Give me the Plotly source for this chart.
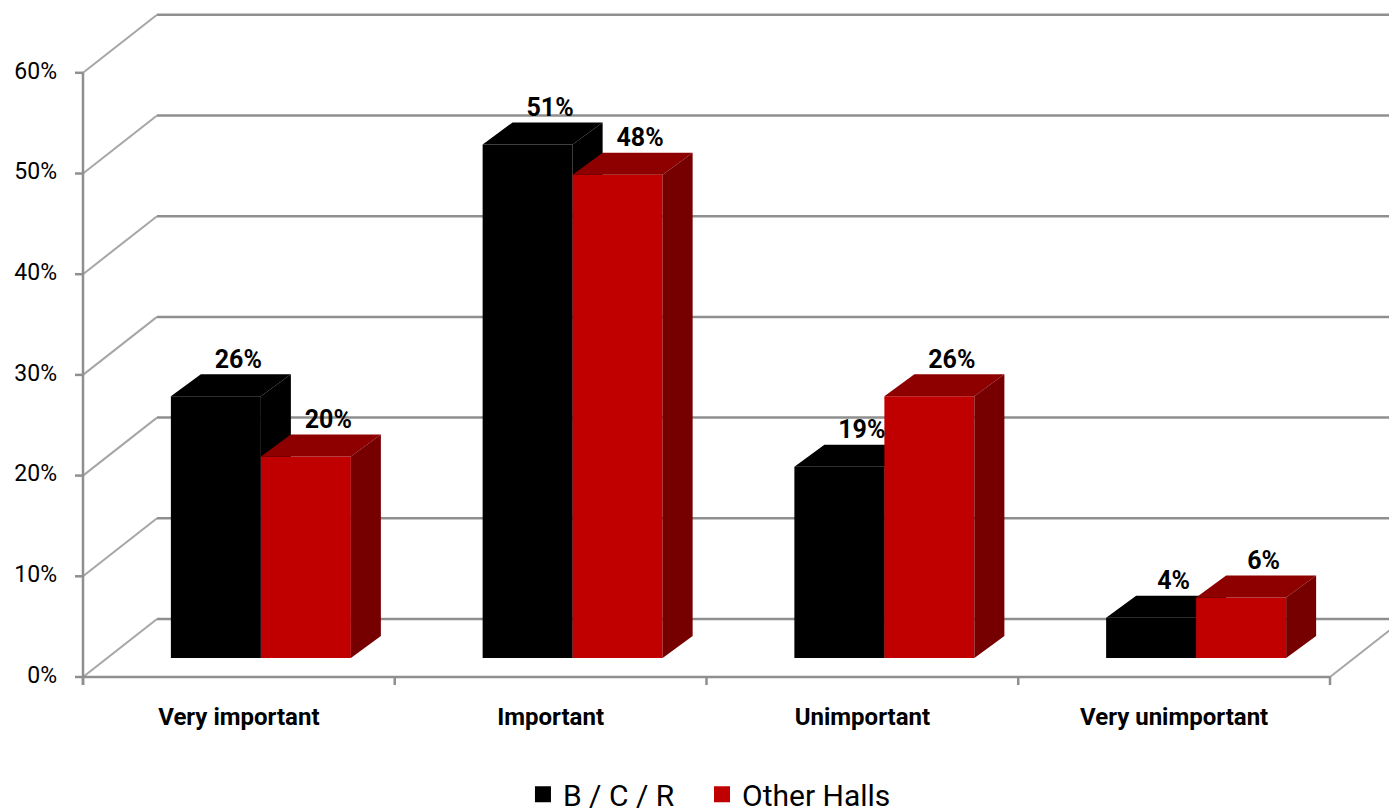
import plotly.graph_objects as go

# ---------------- data ----------------
categories = ["Very important", "Important", "Unimportant", "Very unimportant"]
series_names = ["B / C / R", "Other Halls"]
bcr_values = [26, 51, 19, 4]
other_values = [20, 48, 26, 6]
y_ticks = [0, 10, 20, 30, 40, 50, 60]

# ---------------- styling / projection ----------------
W, H = 1389, 812
X0_PX, Y0_PX = 83, 677          # front-left corner of the floor (0%)
PX_PER_CAT = 311.75
PX_PER_PCT = 10.07

FONT = "Roboto, Liberation Sans, Arial, sans-serif"
GRID = "#8f8f8f"
DIAG = "#a6a6a6"


def dxp(px):
    return px / PX_PER_CAT


def dyp(px):
    return px / PX_PER_PCT


WALL = (dxp(74), dyp(58))        # depth of the floor / back wall
BAR_OFF = (dxp(22), dyp(19))     # front face of the bars sits inside the floor
BAR_DEPTH = (dxp(30), dyp(22))   # depth of each bar
BW = dxp(90)                     # bar width
GAP = (1 - 2 * BW) / 2

series = [
    dict(name=series_names[0], values=bcr_values, legend="legend",
         front="#000000", top="#000000", side="#000000"),
    dict(name=series_names[1], values=other_values, legend="legend2",
         front="#C00000", top="#8E0000", side="#760000"),
]

fig = go.Figure()

# ---------------- walls / gridlines ----------------
gx, gy, ddx, ddy = [], [], [], []
for v in y_ticks:
    # left side-wall diagonal
    ddx += [0, WALL[0], None]
    ddy += [v, v + WALL[1], None]
    # back wall horizontal
    gx += [WALL[0], len(categories) + WALL[0], None]
    gy += [v + WALL[1], v + WALL[1], None]
# right floor diagonal
ddx += [len(categories), len(categories) + WALL[0], None]
ddy += [0, WALL[1], None]

fig.add_trace(go.Scatter(x=ddx, y=ddy, mode="lines", line=dict(color=DIAG, width=2),
                         hoverinfo="skip", showlegend=False))
fig.add_trace(go.Scatter(x=gx, y=gy, mode="lines", line=dict(color=GRID, width=2.5),
                         hoverinfo="skip", showlegend=False))

# front axes + tick marks
ax_x, ax_y = [], []
ax_x += [0, len(categories), None]
ax_y += [0, 0, None]
ax_x += [0, 0, None]
ax_y += [dyp(-8), y_ticks[-1], None]
for v in y_ticks:
    ax_x += [dxp(-8), 0, None]
    ax_y += [v, v, None]
for c in range(len(categories) + 1):
    ax_x += [c, c, None]
    ax_y += [0, dyp(-8), None]
fig.add_trace(go.Scatter(x=ax_x, y=ax_y, mode="lines", line=dict(color=GRID, width=2.5),
                         hoverinfo="skip", showlegend=False))

# ---------------- 3-D bars ----------------
def add_poly(xs, ys, color):
    fig.add_trace(go.Scatter(x=xs, y=ys, mode="lines", fill="toself", fillcolor=color,
                             line=dict(width=0, color=color), hoverinfo="skip",
                             showlegend=False))


label_x, label_y, label_t = [], [], []
for si, s in enumerate(series):
    fx, fy, tx, ty, sx, sy = [], [], [], [], [], []
    for ci, val in enumerate(s["values"]):
        x0 = ci + GAP + BAR_OFF[0] + si * BW
        x1 = x0 + BW
        b = BAR_OFF[1]
        t = b + val
        ddx_, ddy_ = BAR_DEPTH
        fx += [x0, x1, x1, x0, x0, None]
        fy += [b, b, t, t, b, None]
        tx += [x0, x1, x1 + ddx_, x0 + ddx_, x0, None]
        ty += [t, t, t + ddy_, t + ddy_, t, None]
        sx += [x1, x1 + ddx_, x1 + ddx_, x1, x1, None]
        sy += [b, b + ddy_, t + ddy_, t, b, None]
        label_x.append((x0 + x1) / 2 + ddx_ * 0.75)
        label_y.append(t + ddy_)
        label_t.append(f"<b>{val}%</b>")
    add_poly(fx, fy, s["front"])
    add_poly(tx, ty, s["top"])
    add_poly(sx, sy, s["side"])

# data labels
fig.add_trace(go.Scatter(x=label_x, y=label_y, mode="text", text=label_t,
                         textposition="top center",
                         textfont=dict(family=FONT, size=25, color="#000000"),
                         hoverinfo="skip", showlegend=False, cliponaxis=False))

# y tick labels
fig.add_trace(go.Scatter(x=[dxp(57 - X0_PX)] * len(y_ticks), y=y_ticks, mode="text",
                         text=[f"{v}%" for v in y_ticks], textposition="middle left",
                         textfont=dict(family=FONT, size=23, color="#000000"),
                         hoverinfo="skip", showlegend=False, cliponaxis=False))

# category labels
fig.add_trace(go.Scatter(x=[i + 0.5 for i in range(len(categories))],
                         y=[dyp(-(719 - Y0_PX))] * len(categories), mode="text",
                         text=[f"<b>{c}</b>" for c in categories], textposition="middle center",
                         textfont=dict(family=FONT, size=24, color="#000000"),
                         hoverinfo="skip", showlegend=False, cliponaxis=False))

# legend entries (one legend per series so each can be placed like the original)
for s in series:
    fig.add_trace(go.Scatter(x=[None], y=[None], mode="markers", name=s["name"],
                             legend=s["legend"],
                             marker=dict(symbol="square", size=20, color=s["front"])))

LEG_FONT = dict(family=FONT, size=30, color="#000000")
fig.update_layout(
    width=W, height=H,
    margin=dict(l=0, r=0, t=0, b=0, autoexpand=False),
    paper_bgcolor="white", plot_bgcolor="white",
    xaxis=dict(range=[-X0_PX / PX_PER_CAT, (W - X0_PX) / PX_PER_CAT], visible=False,
               fixedrange=True),
    yaxis=dict(range=[-(H - Y0_PX) / PX_PER_PCT, Y0_PX / PX_PER_PCT], visible=False,
               fixedrange=True),
    showlegend=True,
    legend=dict(orientation="h", x=0.3765, xanchor="left", y=0.022, yanchor="middle",
                font=LEG_FONT, bgcolor="rgba(0,0,0,0)", itemsizing="trace"),
    legend2=dict(orientation="h", x=0.5054, xanchor="left", y=0.022, yanchor="middle",
                 font=LEG_FONT, bgcolor="rgba(0,0,0,0)", itemsizing="trace"),
)

fig.write_html("out.html")
